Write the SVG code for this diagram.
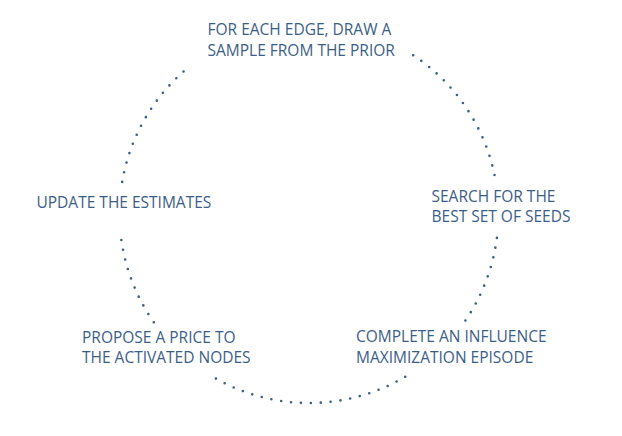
<svg xmlns="http://www.w3.org/2000/svg" width="622" height="436" viewBox="0 0 622 436">
<style>
.lbl{font-family:"Open Sans","Noto Sans","Liberation Sans",sans-serif;font-size:15.5px;fill:#3b5e88;}
.arc{fill:none;stroke:#3b5e88;stroke-width:2.6;stroke-linecap:round;stroke-dasharray:0 9.9;}
</style>
<rect width="622" height="436" fill="#ffffff"/>
<g id="connectors">
<path class="arc" d="M413.2,55.2 A189.5,189.5 0 0 1 495.1,178.0"/>
<path class="arc" d="M496.9,237.9 A189.5,189.5 0 0 1 464.4,321.9"/>
<path class="arc" d="M405.2,376.8 A189.5,189.5 0 0 1 212.8,376.8"/>
<path class="arc" d="M153.8,322.2 A189.5,189.5 0 0 1 121.1,237.9"/>
<path class="arc" d="M122.2,181.9 A189.5,189.5 0 0 1 184.7,70.5"/>
</g>
<g id="node-sample">
<text class="lbl" x="207.5" y="35">FOR EACH EDGE, DRAW A</text>
<text class="lbl" x="207.5" y="56">SAMPLE FROM THE PRIOR</text>
</g>
<g id="node-search">
<text class="lbl" x="431.5" y="202">SEARCH FOR THE</text>
<text class="lbl" x="431.5" y="222">BEST SET OF SEEDS</text>
</g>
<g id="node-episode">
<text class="lbl" x="356" y="342">COMPLETE AN INFLUENCE</text>
<text class="lbl" x="356" y="363">MAXIMIZATION EPISODE</text>
</g>
<g id="node-price">
<text class="lbl" x="82" y="343">PROPOSE A PRICE TO</text>
<text class="lbl" x="82" y="363">THE ACTIVATED NODES</text>
</g>
<g id="node-update">
<text class="lbl" x="36.5" y="208">UPDATE THE ESTIMATES</text>
</g>
</svg>
